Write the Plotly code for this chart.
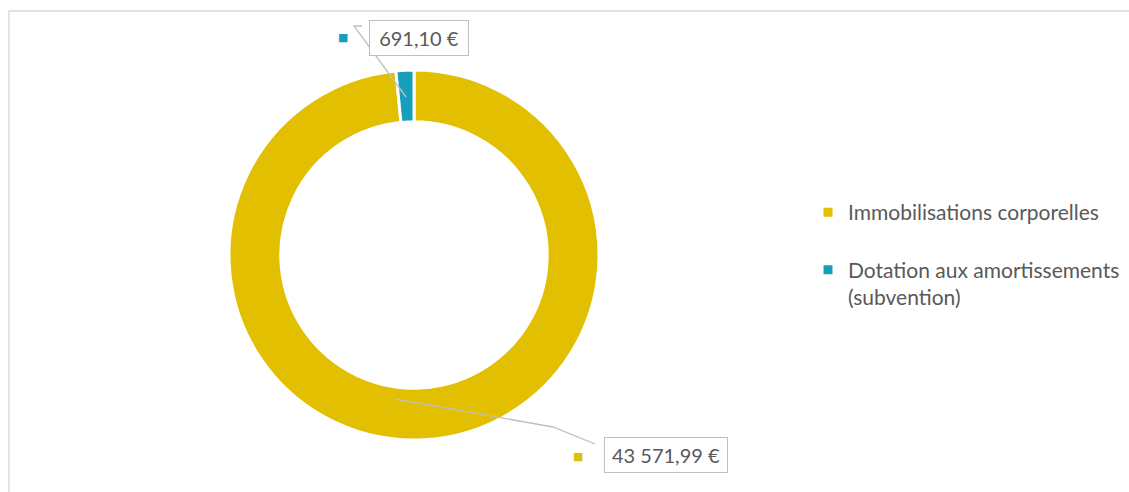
import plotly.graph_objects as go

W, H = 1129, 492

labels = ["Immobilisations corporelles", "Dotation aux amortissements<br>(subvention)"]
values = [43571.99, 691.10]
value_text = ["43 571,99 €", "691,10 €"]
colors = ["#E2BF00", "#169EBA"]

FONT = "Lato, Open Sans, sans-serif"
GREY = "#595959"

def px(x):
    return x / W

def py(y):
    return 1 - y / H

# legend entries: first entry padded with a blank line to reproduce the spacing
legend_labels = [labels[0] + "<br> ", labels[1]]

fig = go.Figure()
fig.add_trace(go.Pie(
    labels=legend_labels,
    values=values,
    hole=0.72,
    sort=False,
    direction="clockwise",
    rotation=0,
    marker=dict(colors=colors, line=dict(color="white", width=3)),
    textinfo="none",
    hoverinfo="value",
    domain=dict(x=[px(229), px(599)], y=[py(440), py(70)]),
    showlegend=True,
))

# Data labels (boxed), with colored keys and leader lines
label_pos = [(666, 455), (419, 38)]
label_w = [114, 90]
key_pos = [(578, 456), (343, 37)]
leaders = [
    [(395, 399), (553, 427), (595, 444)],
    [(406, 97), (354, 26), (362, 26)],
]
for i in range(len(values)):
    x, y = label_pos[i]
    fig.add_annotation(
        x=px(x), y=py(y), xref="paper", yref="paper",
        text=value_text[i], showarrow=False,
        font=dict(family=FONT, size=20, color=GREY),
        bordercolor="#BFBFBF", borderwidth=1, borderpad=4, bgcolor="white",
        width=label_w[i], height=26, align="center",
        xanchor="center", yanchor="middle",
    )
    kx, ky = key_pos[i]
    fig.add_annotation(
        x=px(kx), y=py(ky), xref="paper", yref="paper",
        text="■", showarrow=False,
        font=dict(family="DejaVu Sans", size=11, color=colors[i]),
        xanchor="center", yanchor="middle",
    )
    pts = leaders[i]
    path = "M " + " L ".join(f"{px(a)},{py(b)}" for a, b in pts)
    fig.add_shape(type="path", path=path, xref="paper", yref="paper",
                  line=dict(color="#BFBFBF", width=1.3))

# chart frame
fig.add_shape(type="rect", xref="paper", yref="paper",
              x0=px(9), y0=-0.2, x1=1.2, y1=py(11),
              line=dict(color="#D9D9D9", width=1.3), layer="below")

fig.update_layout(
    width=W, height=H,
    margin=dict(l=0, r=0, t=0, b=0),
    paper_bgcolor="white",
    plot_bgcolor="white",
    font=dict(family=FONT, color=GREY),
    legend=dict(
        x=px(808), y=py(255), xanchor="left", yanchor="middle",
        font=dict(family=FONT, size=21, color=GREY),
        valign="top",
        itemclick=False,
        tracegroupgap=0,
    ),
)

fig.write_html("out.html", config={"displayModeBar": False},
               post_script="document.body.style.margin='0';")
